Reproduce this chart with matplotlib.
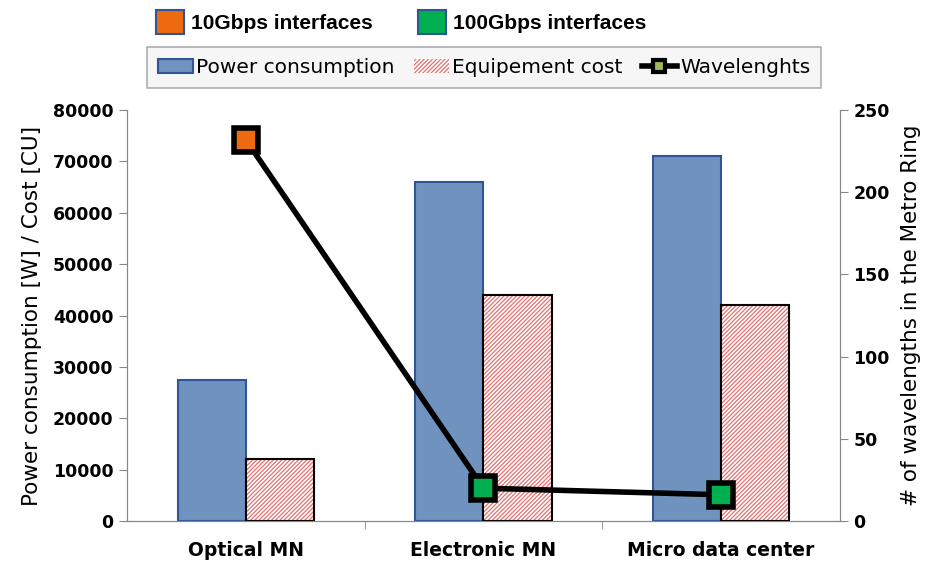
import numpy as np
import matplotlib
matplotlib.use("Agg")
import matplotlib.pyplot as plt
from matplotlib.patches import Patch
from matplotlib.lines import Line2D

# Data
categories = ["Optical MN", "Electronic MN", "Micro data center"]
power = [27500, 66000, 71000]
cost = [12000, 44000, 42000]
wavelengths = [232, 20, 16]
iface_colors = ["#ee6a10", "#00b050", "#00b050"]

plt.rcParams["hatch.linewidth"] = 0.9

x = np.arange(len(categories))
w = 0.287

fig = plt.figure(figsize=(9.33, 5.67), dpi=100)
ax = fig.add_axes([0.136, 0.081, 0.7643, 0.725])

# Power consumption bars
ax.bar(x - w / 2, power, w, color="#7092be", edgecolor="#2f5597", linewidth=1.5, zorder=2)

# Equipment cost bars: red hatch, then a black outline on top
ax.bar(x + w / 2, cost, w, color="white", edgecolor="#e57070", hatch="////////", linewidth=0, zorder=2)
ax.bar(x + w / 2, cost, w, fill=False, edgecolor="black", linewidth=1.5, zorder=3)

ax.set_xlim(-0.5, 2.5)
ax.set_ylim(0, 80000)
ax.set_yticks(np.arange(0, 80001, 10000))
ax.set_xticks(x)
ax.set_xticklabels(categories, fontsize=13.5, fontweight="bold", family="DejaVu Sans")
ax.set_xticks([0.5, 1.5], minor=True)
ax.tick_params(axis="x", which="major", length=0, pad=14)
ax.tick_params(axis="x", which="minor", length=6, color="#888888")
ax.tick_params(axis="y", length=6, color="#888888", labelsize=12.5)
for lab in ax.get_yticklabels():
    lab.set_fontweight("bold")
ax.set_ylabel("Power consumption [W] / Cost [CU]", fontsize=15.5, family="DejaVu Sans", labelpad=8)

ax.spines["top"].set_visible(False)
for s in ["left", "bottom", "right"]:
    ax.spines[s].set_color("#888888")

# Wavelength line on the secondary axis
ax2 = ax.twinx()
ax2.plot(x, wavelengths, color="black", linewidth=4, zorder=4)
for xi, yi, c in zip(x, wavelengths, iface_colors):
    ax2.plot(xi, yi, marker="s", markersize=17, markerfacecolor=c,
             markeredgecolor="black", markeredgewidth=4, zorder=5)
ax2.set_ylim(0, 250)
ax2.set_yticks(np.arange(0, 251, 50))
ax2.tick_params(axis="y", length=6, color="#888888", labelsize=12.5)
for lab in ax2.get_yticklabels():
    lab.set_fontweight("bold")
ax2.set_ylabel("# of wavelengths in the Metro Ring", fontsize=15.5, family="DejaVu Sans", labelpad=8)
ax2.spines["top"].set_visible(False)
for s in ["left", "bottom", "right"]:
    ax2.spines[s].set_color("#888888")

# Series legend
handles = [
    Patch(facecolor="#7092be", edgecolor="#2f5597", linewidth=1.5),
    Patch(facecolor="white", edgecolor="#e57070", hatch="////////", linewidth=0),
    Line2D([0], [0], color="black", linewidth=4, marker="s", markersize=9,
           markerfacecolor="#9bbb59", markeredgecolor="black", markeredgewidth=3),
]
leg = fig.legend(handles, ["Power consumption", "Equipement cost", "Wavelenghts"],
                 loc="center", bbox_to_anchor=(0.519, 0.881), ncol=3, frameon=True,
                 fancybox=False, edgecolor="#999999", facecolor="#f4f4f4",
                 prop={"family": "DejaVu Sans", "size": 14.5},
                 handlelength=1.75, handleheight=0.65, handletextpad=0.15,
                 columnspacing=0.95, borderpad=0.55)
leg.get_frame().set_linewidth(1.2)

# Interface colour legend
iface_handles = [
    Patch(facecolor="#ee6a10", edgecolor="#2f5597", linewidth=1.5),
    Patch(facecolor="#00b050", edgecolor="#2f5597", linewidth=1.5),
]
fig.legend(iface_handles, ["10Gbps interfaces", "100Gbps interfaces"],
           loc="center", bbox_to_anchor=(0.430, 0.961), ncol=2, frameon=False,
           prop={"family": "Liberation Sans", "size": 15, "weight": "bold"},
           handlelength=1.35, handleheight=1.35, handletextpad=0.3, columnspacing=2.2)

fig.savefig("out.png", dpi=100)
